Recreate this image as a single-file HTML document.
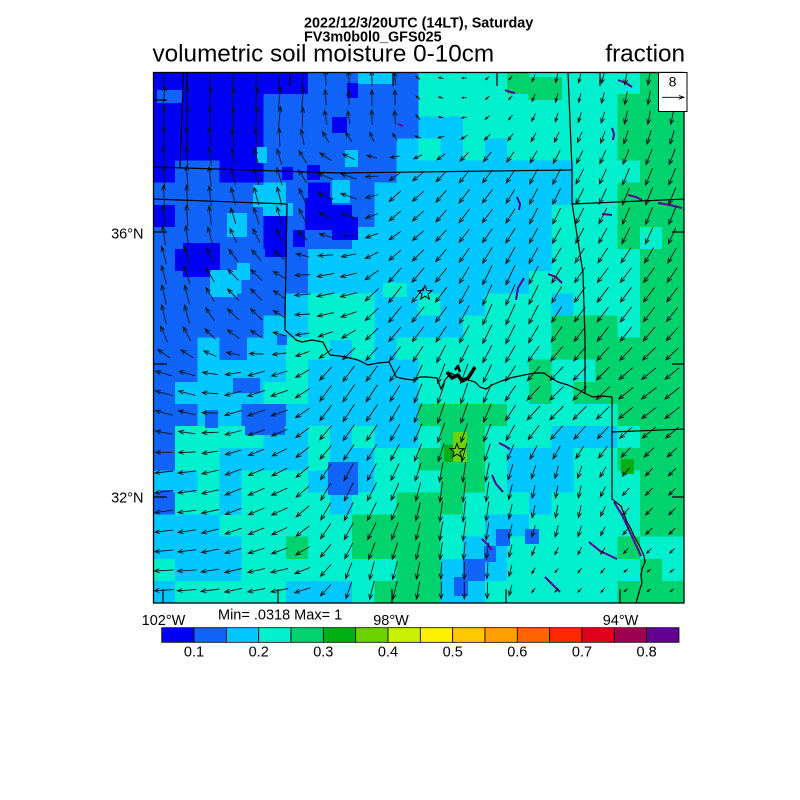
<!DOCTYPE html>
<html><head><meta charset="utf-8">
<style>
html,body{margin:0;padding:0;background:#fff;}
svg{display:block;}
text{font-family:"Liberation Sans",Arial,sans-serif;fill:#000;}
</style></head>
<body>
<svg id="s" width="800" height="800" viewBox="0 0 800 800" xmlns="http://www.w3.org/2000/svg">
<defs><clipPath id="mc"><rect x="153" y="72" width="531" height="531"/></clipPath></defs>
<rect width="800" height="800" fill="#fff"/>
<g clip-path="url(#mc)">
<g id="map" shape-rendering="crispEdges"></g>
<g id="extra" shape-rendering="crispEdges"></g>
<g id="purp" fill="none" stroke="#640091" stroke-width="2" stroke-linejoin="round"></g>
<g id="vec" fill="none" stroke="#051414" stroke-width="0.9"></g>
<g id="lines" fill="none" stroke="#000" stroke-width="1.2" stroke-linejoin="round">
<path d="M183.5,72 L180,167"/>
<path d="M153,167 L340,173 L415,172 L572,170"/>
<path d="M153,199 L287,204 L285,320 L285,330 L293,337 L296,340 L302,342 L312,340 L323,342 L327,350 L330,355 L340,356 L350,358 L358,360 L368,365 L378,363 L389,362 L393,370 L396,377 L405,379 L413,380 L420,377 L427,377 L437,378 L441,389 L445,380 L451,373 L460,378 L468,380 L475,382 L480,387 L486,389 L492,385 L499,382 L510,378 L524,375 L535,373 L544,373 L551,378 L558,382 L568,385 L579,390 L586,394 L593,397 L602,396 L612,397"/>
<path d="M568,72 L572,170 L572,203 L583,273 L585,340 L585,393"/>
<path d="M612,397 L612,499 L617,503 L621,506 L624,514 L627,522 L631,529 L634,536 L638,543 L641,549 L644,556 L645,562 L642,569 L641,576 L642,583 L640,589 L638,596 L636,603"/>
<path d="M572,204 L685,199"/>
<path d="M612,432 L685,429"/>
<path d="M447,372 L452,378 L458,375 L462,381 L468,378 L472,372 L475,367" stroke-width="3.5"/>
<path d="M455,370 L458,366 L460,372" stroke-width="2.5"/>
<path d="M153,100 L167,100 M153,232 L167,232 M153,364 L167,364 M153,497 L167,497"/>
<path d="M672,232 L684,232 M672,364 L684,364 M672,497 L684,497"/>
<path d="M163,589 L163,603 M278,589 L278,603 M392,589 L392,603 M506,589 L506,603 M620,589 L620,603"/>
<path d="M187,72 L187,86 M290,72 L290,86 M393,72 L393,86 M497,72 L497,86 M600,72 L600,86"/>
</g>
<g fill="none" stroke="#000" stroke-width="1">
<polygon id="st1" points=""/>
<polygon id="st2" points=""/>
</g>
</g>
<rect x="153.5" y="72.5" width="530.5" height="530.5" fill="none" stroke="#000" stroke-width="1.3"/>
<rect x="658.5" y="72.5" width="28.5" height="39" fill="#fff" stroke="#000" stroke-width="1"/>
<text x="672.5" y="86.7" font-size="14" text-anchor="middle">8</text>
<path d="M662,97.3 L684,97.3 M679,95.5 L684,97.3 L679,99.1" fill="none" stroke="#000" stroke-width="0.9"/>
<text x="304" y="27.3" font-size="14.4" font-weight="bold">2022/12/3/20UTC (14LT), Saturday</text>
<text x="304" y="41.7" font-size="14.4" font-weight="bold">FV3m0b0l0_GFS025</text>
<text x="152.5" y="61.7" font-size="24.3">volumetric soil moisture 0-10cm</text>
<text x="685" y="61.7" font-size="24.3" text-anchor="end">fraction</text>
<text x="143.5" y="238.3" font-size="14.5" text-anchor="end">36°N</text>
<text x="143.5" y="502.5" font-size="14.5" text-anchor="end">32°N</text>
<text x="163.5" y="625" font-size="14.5" text-anchor="middle">102°W</text>
<text x="391" y="625" font-size="14.5" text-anchor="middle">98°W</text>
<text x="620.5" y="625" font-size="14.5" text-anchor="middle">94°W</text>
<text x="218" y="619.5" font-size="14.5">Min= .0318 Max= 1</text>
<g id="cbar"></g>
</svg>
<script>
(function(){
var col={D:'#0000f5',M:'#1064fa',C:'#00c8ff',T:'#00f0cd',G:'#00d26e',K:'#00af14',L:'#6cd200',Y:'#c8f000',P:'#640091'};
var rows=[
"DDDDDDDMMMMMTTTTGTTTTTGG",
"DDDDDMMMMMMMTTTTTTTTTGGG",
"DDDDDMMMMMMMCCTTTTTTTGGG",
"DDDDDMMMMMMCTCTCTTTTTGGG",
"DMMDDMMMMMMCCCCCCCCTTTGG",
"MMMMMCMDMMCCCCCCCCCTTGGG",
"DMMMMDMDDMCCCCCCCCTTTGGG",
"MMMMMDMMMCCCCCCCCCTTTGTG",
"MDDMMMMCCCCCCCCCCCTTTTGG",
"MMMCMMMCCCCCCCCCCTTTTTGG",
"MMMMMMCTTTCCTCCTTTCTTTGG",
"MMMMMCCTTTCCCCTTTTGGGTGG",
"MMCMCCTTCTCTTTTTTTGGGGGG",
"MMCCCCTCCCCCTTTTTGTTGGGG",
"MCCCCTTCCCCCTTTTTGTGGGGG",
"MMCCMMCCCCCCGGGGTTTTTGGG",
"MTTTTCCTCTCCTGGTTTCCCTGG",
"MTTCCCCTCCTTGGGTCCCTTGGG",
"CCTCTTTCMCTTTGGTCCCTTTGG",
"MTTCTTTTCTTGGGTTTCTTTTGG",
"CCCTTTTTTGGGGTTCCTTTTTGG",
"CCCCTTGTTGGGGTCCTTTTTGTT",
"TCCCTTTTTTTGGCMCTTTTTTGT",
"CTTTTTCCCTGGGCCTTTTTTGGG"];
var map=document.getElementById('map');
var cw=531/24,ch=531/24,h='';
for(var r=0;r<24;r++){for(var c=0;c<24;c++){
 h+='<rect x="'+(153+c*cw).toFixed(2)+'" y="'+(72+r*ch).toFixed(2)+'" width="'+(cw+0.6).toFixed(2)+'" height="'+(ch+0.6).toFixed(2)+'" fill="'+col[rows[r][c]]+'"/>';
}}
map.innerHTML=h;
var ex=[
[358,72,35,12,'C'],[317,297,50,43,'T'],[383,283,24,14,'T'],
[332,117,15,16,'D'],[347,83,11,15,'D'],[307,165,13,15,'D'],[282,167,11,13,'D'],[332,217,26,23,'D'],[293,230,12,17,'D'],[265,213,22,44,'D'],[183,243,37,34,'D'],[305,198,27,32,'D'],
[257,147,10,16,'C'],[253,185,24,22,'C'],[263,203,30,13,'C'],[227,213,20,24,'C'],[210,270,27,27,'C'],[237,263,13,17,'C'],[345,150,13,17,'C'],[332,180,18,23,'C'],
[157,90,26,13,'M'],
[220,335,27,25,'M'],[233,378,27,15,'M'],[205,410,13,18,'M'],[245,410,40,25,'M'],[277,335,10,10,'M'],[160,490,13,18,'M'],[328,462,30,33,'M'],
[496,529,14,17,'M'],[525,529,14,15,'M'],[484,546,12,16,'M'],[468,562,16,15,'M'],[454,577,14,19,'M'],
[444,445,9,17,'K'],[453,432,14,30,'L'],[621,459,13,15,'K'],[528,77,34,23,'G']];
h='';
ex.forEach(function(e){h+='<rect x="'+e[0]+'" y="'+e[1]+'" width="'+e[2]+'" height="'+e[3]+'" fill="'+col[e[4]]+'"/>';});
document.getElementById('extra').innerHTML=h;
var pl=[
[[517,197],[520,204],[519,210]],[[612,128],[614,134],[613,140]],[[524,278],[518,288],[516,300]],
[[548,274],[556,277],[562,283]],[[628,195],[636,197],[642,200]],[[658,203],[670,205],[682,208]],
[[602,214],[612,215]],[[589,542],[600,551],[617,559]],[[614,502],[622,515],[630,532],[636,545],[641,556]],
[[545,577],[552,584],[560,592]],[[482,539],[489,546],[492,550]],[[492,475],[496,484],[503,492]],
[[499,443],[505,446],[510,449]],[[398,124],[403,126]],[[618,80],[626,83],[632,87]],[[505,90],[510,92],[515,93]]];
h='';
pl.forEach(function(p){h+='<polyline points="'+p.map(function(q){return q.join(',');}).join(' ')+'"/>';});
document.getElementById('purp').innerHTML=h;
var ctrl=[
[175,90,1,-20],[280,100,2,-19],[380,100,0,-14],[440,90,-4,-1],[500,85,-3,3],[560,90,-2,8],[650,90,-2,12],
[180,200,-1,-19],[280,200,-4,-16],[340,190,-14,-5],[400,200,-10,9],[470,200,-9,12],[550,200,-7,14],[650,200,-6,15],
[170,300,-4,-17],[250,300,-10,-10],[330,290,-15,3],[400,300,-11,14],[500,300,-8,18],[620,300,-10,13],
[170,400,-15,-4],[260,400,-15,5],[350,400,-10,15],[450,400,-6,18],[560,400,-12,12],[650,400,-13,10],
[170,500,-16,2],[260,500,-14,6],[350,500,-8,16],[460,500,-2,18],[560,500,-2,11],[650,500,-6,6],
[170,590,-17,1],[270,590,-15,3],[380,590,-4,16],[460,590,0,15],[560,590,-3,3],[650,590,-3,2]];
h='';
for(var i=0;i<23;i++){for(var k=0;k<27;k++){
 var x=164+23.1*i,y=78+19.7*k,su=0,sv=0,sw=0;
 for(var j=0;j<ctrl.length;j++){var c=ctrl[j];var d2=(x-c[0])*(x-c[0])+(y-c[1])*(y-c[1])+1;var w=1/Math.pow(d2,1.5);su+=w*c[2];sv+=w*c[3];sw+=w;}
 var u=1.15*su/sw,v=1.15*sv/sw,len=Math.sqrt(u*u+v*v);if(len<1.5)continue;
 var x1=x-u/2,y1=y-v/2,x2=x+u/2,y2=y+v/2,a=Math.atan2(v,u),hl=Math.min(5.5,len*0.45);
 var ax=x2-hl*Math.cos(a-0.38),ay=y2-hl*Math.sin(a-0.38),bx=x2-hl*Math.cos(a+0.38),by=y2-hl*Math.sin(a+0.38);
 h+='<path d="M'+x1.toFixed(1)+','+y1.toFixed(1)+'L'+x2.toFixed(1)+','+y2.toFixed(1)+'M'+ax.toFixed(1)+','+ay.toFixed(1)+'L'+x2.toFixed(1)+','+y2.toFixed(1)+'L'+bx.toFixed(1)+','+by.toFixed(1)+'"/>';
}}
document.getElementById('vec').innerHTML=h;
function star(cx,cy,R){var p=[];for(var i=0;i<10;i++){var rr=i%2?R*0.42:R;var a=-Math.PI/2+i*Math.PI/5;p.push((cx+rr*Math.cos(a)).toFixed(1)+','+(cy+rr*Math.sin(a)).toFixed(1));}return p.join(' ');}
document.getElementById('st1').setAttribute('points',star(425,293,7.5));
document.getElementById('st2').setAttribute('points',star(457,451,7.5));
var cb=['#0000f5','#1064fa','#00c8ff','#00f0cd','#00d26e','#00af14','#6cd200','#c8f000','#fff000','#ffc800','#ffa000','#ff6400','#ff2800','#e1001e','#a00050','#640091'];
var bw=32.33;h='';
for(var i=0;i<16;i++){h+='<rect x="'+(161.7+i*bw).toFixed(2)+'" y="627.7" width="'+bw+'" height="14.6" fill="'+cb[i]+'" stroke="#000" stroke-width="0.8"/>';}
var labs=['0.1','0.2','0.3','0.4','0.5','0.6','0.7','0.8'];
for(var i=0;i<8;i++){h+='<text x="'+(161.7+bw*(2*i+1)).toFixed(1)+'" y="656.7" font-size="14.5" text-anchor="middle">'+labs[i]+'</text>';}
document.getElementById('cbar').innerHTML=h;
})();
</script>
</body></html>
